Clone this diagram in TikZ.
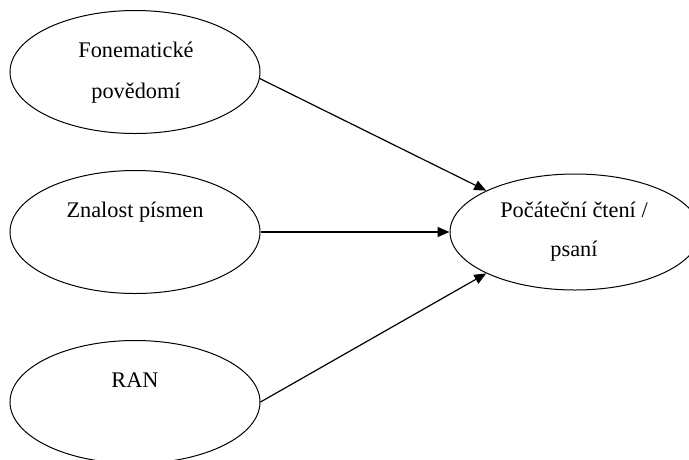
\documentclass[tikz,border=0pt]{standalone}
\usepackage{fontspec}
\setmainfont{Liberation Serif}
\usetikzlibrary{arrows.meta,shapes.geometric}
\begin{document}
\begin{tikzpicture}[x=1pt,y=-1pt,
  factor/.style={ellipse,draw,line width=1pt,minimum width=250pt,minimum height=123pt,inner sep=0pt},
  outcome/.style={ellipse,draw,line width=1pt,minimum width=250pt,minimum height=116pt,inner sep=0pt},
  label/.style={font=\fontsize{22.3}{26}\selectfont,anchor=base,inner sep=0pt},
  link/.style={line width=1.2pt,-{Triangle[length=12pt,width=10pt]}}]
\useasboundingbox (0,0) rectangle (689,459);
\clip (0,0) rectangle (689,459);
% predictors
\node[factor] (fa) at (135,72) {};
\node[factor] (zp) at (135,232) {};
\node[factor] (ran) at (135,402) {};
% outcome
\node[outcome] (ct) at (575,232) {};
% labels
\node[label] (fa1) at (136,57) {Fonematické};
\node[label] (fa2) at (136,98) {povědomí};
\node[label] (zp1) at (135,217) {Znalost písmen};
\node[label] (ran1) at (135,387) {RAN};
\node[label] (ct1) at (574,217) {Počáteční čtení /};
\node[label] (ct2) at (574,256) {psaní};
% connectors
\draw[link] (fa.-3) -- (ct.155);
\draw[link] (zp.east) -- (ct.west);
\draw[link] (ran.east) -- (ct.205);
\end{tikzpicture}
\end{document}
